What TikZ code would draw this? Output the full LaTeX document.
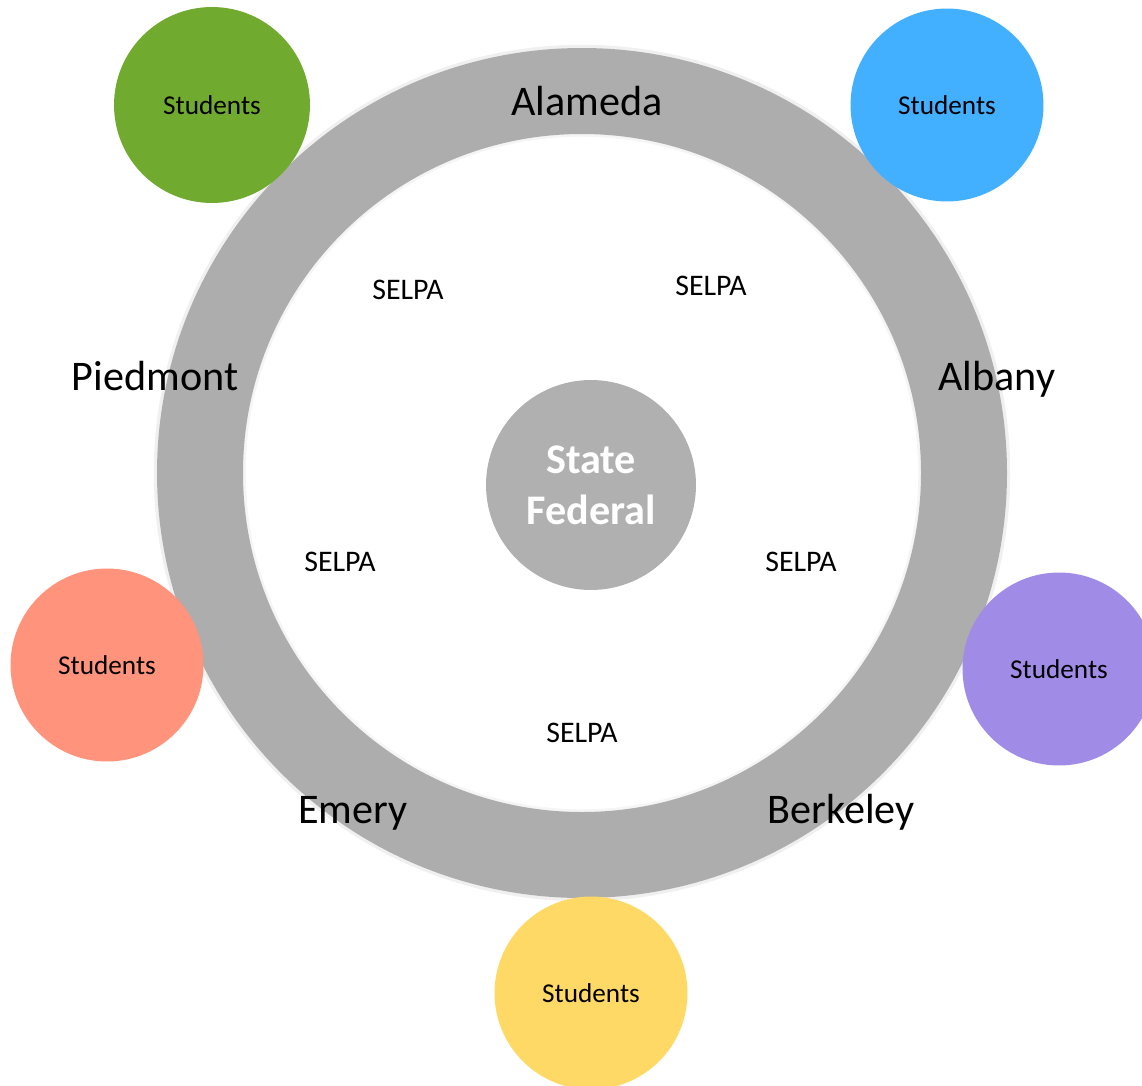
\documentclass[tikz,border=0pt]{standalone}
\usepackage{fontspec}
\setmainfont{Carlito}
\usetikzlibrary{positioning}

\definecolor{RingGray}{HTML}{ADADAD}
\definecolor{HubGray}{HTML}{B0B0B0}
\definecolor{PupilGreen}{HTML}{70AB2F}
\definecolor{PupilBlue}{HTML}{43B0FF}
\definecolor{PupilSalmon}{HTML}{FF937B}
\definecolor{PupilPurple}{HTML}{A08BE6}
\definecolor{PupilYellow}{HTML}{FFD966}

\begin{document}
\begin{tikzpicture}[x=0.02cm, y=-0.02cm]
		\tikzstyle{Pupil} 	= [circle, inner sep=0pt, minimum size=3.86cm, font=\fontsize{15.5}{18}\selectfont]
		\tikzstyle{Hub}		= [circle, inner sep=0pt, minimum size=4.2cm, fill=HubGray, text=white, align=center, font=\fontsize{24}{29}\selectfont\bfseries]
		\tikzstyle{Town}	= [anchor=base, font=\fontsize{24}{29}\selectfont]
		\tikzstyle{Selpa}	= [anchor=base, font=\fontsize{17}{20}\selectfont]

		\useasboundingbox (0,0) rectangle (1142,1085);
		\coordinate (c) at (582,473);

		% the ring with its soft edge
		\draw [line width=0.07cm, black!6] (c) circle [radius=426.5];
		\draw [line width=0.06cm, black!4] (c) circle [radius=337.8];
		\fill [RingGray, even odd rule] (c) circle [radius=425] (c) circle [radius=339];

		\node (hub) at (591,485) [Hub] {State\\Federal};

		\node (s1) at (212,105) [Pupil, fill=PupilGreen, minimum size=3.92cm] {Students};
		\node (s2) at (947,105) [Pupil, fill=PupilBlue] {Students};
		\node (s3) at (107,665) [Pupil, fill=PupilSalmon] {Students};
		\node (s4) at (1059,669) [Pupil, fill=PupilPurple] {Students};
		\node (s5) at (591,993) [Pupil, fill=PupilYellow] {Students};

		\node (alameda)  at (587,115) [Town] {Alameda};
		\node (piedmont) at (155,390) [Town] {Piedmont};
		\node (albany)   at (997,390) [Town] {Albany};
		\node (emery)    at (353,823) [Town] {Emery};
		\node (berkeley) at (841,823) [Town] {Berkeley};

		\node (p1) at (408,299) [Selpa] {SELPA};
		\node (p2) at (711,295) [Selpa] {SELPA};
		\node (p3) at (340,571) [Selpa] {SELPA};
		\node (p4) at (801,571) [Selpa] {SELPA};
		\node (p5) at (582,742) [Selpa] {SELPA};
	\end{tikzpicture}
\end{document}
